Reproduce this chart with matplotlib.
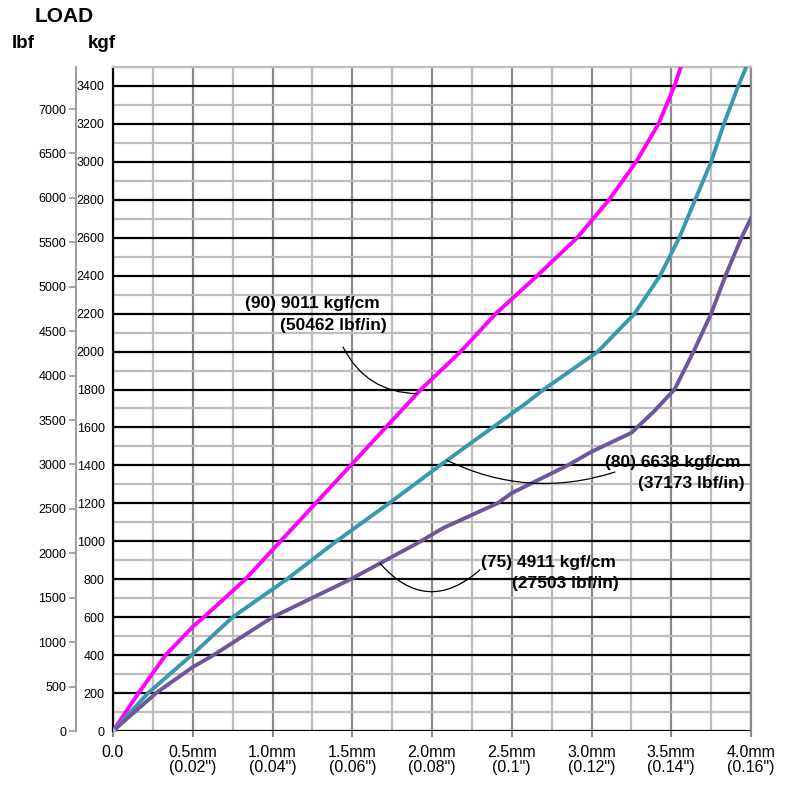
import numpy as np
import matplotlib
matplotlib.use('Agg')
import matplotlib.pyplot as plt
from matplotlib.ticker import MultipleLocator, FixedLocator, FixedFormatter

plt.rcParams['font.family'] = ['Liberation Sans', 'DejaVu Sans']

# ---- data (deflection mm -> load kgf) ----
mm_90  = [0, 0.16, 0.33, 0.50, 0.57, 0.83, 1.05, 1.27, 1.49, 1.71, 1.93, 2.18,
          2.40, 2.66, 2.91, 3.11, 3.28, 3.42, 3.52, 3.56]
kgf_90 = [0, 200, 400, 550, 600, 800, 1000, 1200, 1400, 1600, 1800, 2000,
          2200, 2400, 2600, 2800, 3000, 3200, 3400, 3500]

mm_80  = [0, 0.22, 0.50, 0.75, 1.09, 1.40, 1.73, 2.05, 2.38, 2.59, 2.70, 3.04,
          3.27, 3.43, 3.55, 3.65, 3.75, 3.83, 3.92, 3.97]
kgf_80 = [0, 200, 405, 600, 800, 1000, 1200, 1400, 1600, 1728, 1800, 2000,
          2200, 2400, 2600, 2800, 3000, 3200, 3400, 3500]

mm_75  = [0, 0.27, 0.50, 0.63, 1.00, 1.49, 1.71, 1.93, 2.07, 2.41, 2.50, 2.85,
          3.00, 3.25, 3.39, 3.52, 3.64, 3.75, 3.84, 3.94, 4.00]
kgf_75 = [0, 200, 337, 400, 600, 800, 900, 1000, 1070, 1200, 1254, 1400,
          1472, 1572, 1683, 1800, 2000, 2200, 2400, 2600, 2704]

x_ticks  = [0.0, 0.5, 1.0, 1.5, 2.0, 2.5, 3.0, 3.5, 4.0]
x_labels = ['0.0', '0.5mm\n(0.02")', '1.0mm\n(0.04")', '1.5mm\n(0.06")',
            '2.0mm\n(0.08")', '2.5mm\n(0.1")', '3.0mm\n(0.12")',
            '3.5mm\n(0.14")', '4.0mm\n(0.16")']
kgf_ticks = list(range(0, 3401, 200))
lbf_ticks = list(range(0, 7001, 500))

labels_90 = ['(90) 9011 kgf/cm', '(50462 lbf/in)']
labels_80 = ['(80) 6638 kgf/cm', '(37173 lbf/in)']
labels_75 = ['(75) 4911 kgf/cm', '(27503 lbf/in)']

# ---- figure ----
W, H = 791, 785
fig = plt.figure(figsize=(W / 100, H / 100), dpi=100)
ax = fig.add_axes([113 / W, 54 / H, 638 / W, 664 / H])
ax.set_xlim(0, 4.0)
ax.set_ylim(0, 3500)

# grid
ax.set_axisbelow(True)
ax.yaxis.set_major_locator(FixedLocator(kgf_ticks))
ax.yaxis.set_minor_locator(MultipleLocator(100))
ax.xaxis.set_major_locator(FixedLocator(x_ticks))
ax.xaxis.set_minor_locator(MultipleLocator(0.25))
ax.grid(which='minor', axis='both', color='#bdbdbd', lw=1.6)
ax.grid(which='major', axis='x', color='#8a8a8a', lw=1.6)
ax.grid(which='major', axis='y', color='black', lw=1.6)

ax.xaxis.set_major_formatter(FixedFormatter(x_labels))
ax.tick_params(axis='x', which='major', length=4, width=1.5, color='#8a8a8a',
               pad=6, labelsize=11.5)
ax.tick_params(axis='y', which='major', length=0, pad=6, labelsize=9)
ax.tick_params(which='minor', length=0)
for t in ax.get_xticklabels():
    t.set_linespacing(1.05)

ax.spines['bottom'].set_visible(False)
ax.spines['left'].set_color('black')
ax.spines['left'].set_linewidth(1.6)
ax.spines['right'].set_color('#8a8a8a')
ax.spines['right'].set_linewidth(1.6)
ax.spines['top'].set_color('#bdbdbd')
ax.spines['top'].set_linewidth(1.6)

# curves
ax.plot(mm_90, kgf_90, color='#ff00ff', lw=2.8, zorder=5, solid_joinstyle='round')
ax.plot(mm_80, kgf_80, color='#3a98ae', lw=2.8, zorder=5, solid_joinstyle='round')
ax.plot(mm_75, kgf_75, color='#6f559b', lw=2.8, zorder=5, solid_joinstyle='round')
ax.plot([0], [0], marker='D', ms=3, color='#8fb0d8', zorder=6)

# annotations (text + curved leader)
tkw = dict(fontsize=12.5, fontweight='bold', ha='left', va='center', zorder=6)
ax.text(0.83, 2251, labels_90[0], **tkw)
ax.text(1.05, 2140, labels_90[1], **tkw)
ax.text(3.085, 1413, labels_80[0], **tkw)
ax.text(3.29, 1307, labels_80[1], **tkw)
ax.text(2.31, 886, labels_75[0], **tkw)
ax.text(2.50, 780, labels_75[1], **tkw)

akw = dict(arrowstyle='-', color='black', lw=0.9, shrinkA=0, shrinkB=0)
x90 = 1.906
ax.annotate('', xy=(x90, np.interp(x90, mm_90, kgf_90)), xytext=(1.442, 2024),
            arrowprops=dict(connectionstyle='arc3,rad=0.3', **akw), zorder=6)
x80 = 2.094
ax.annotate('', xy=(3.147, 1365), xytext=(x80, np.interp(x80, mm_80, kgf_80)),
            arrowprops=dict(connectionstyle='arc3,rad=0.2', **akw), zorder=6)
x75 = 1.674
ax.annotate('', xy=(2.30, 849), xytext=(x75, np.interp(x75, mm_75, kgf_75)),
            arrowprops=dict(connectionstyle='arc3,rad=0.5', **akw), zorder=6)

# second (lbf) axis, offset to the left
ax2 = ax.twinx()
ax2.set_ylim(0, 7473)
ax2.yaxis.tick_left()
ax2.spines['left'].set_position(('outward', 26.6))
ax2.spines['left'].set_color('#a0a0a0')
ax2.spines['left'].set_linewidth(1.5)
for side in ['right', 'top', 'bottom']:
    ax2.spines[side].set_visible(False)
ax2.yaxis.set_major_locator(FixedLocator(lbf_ticks))
ax2.tick_params(axis='y', length=5, width=1.3, color='#a0a0a0', pad=2,
                labelsize=9)

# header
hkw = dict(fontweight='bold', ha='center', va='center')
fig.text(64 / W, 1 - 17 / H, 'LOAD', fontsize=15, **hkw)
fig.text(23 / W, 1 - 44 / H, 'lbf', fontsize=13.5, **hkw)
fig.text(102 / W, 1 - 44 / H, 'kgf', fontsize=13.5, **hkw)

fig.savefig('out.png', dpi=100)
